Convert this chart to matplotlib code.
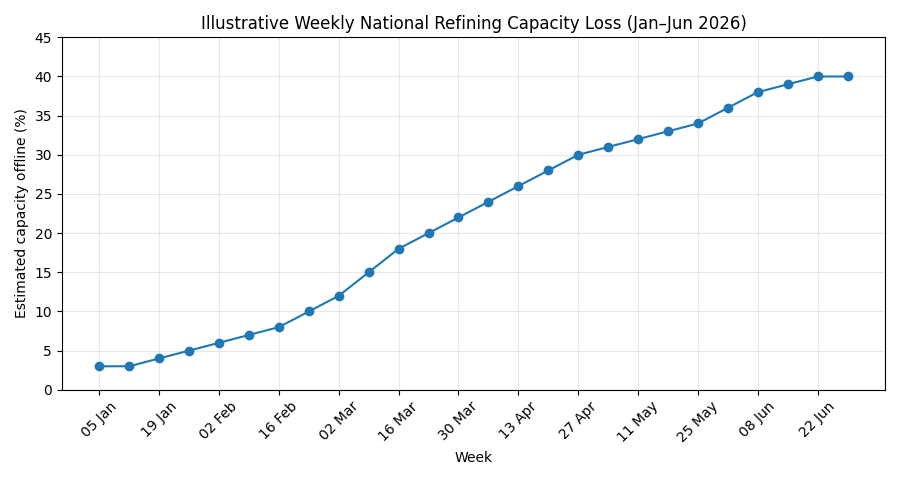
import matplotlib
matplotlib.use("Agg")
import matplotlib.pyplot as plt
import matplotlib.dates as mdates
import pandas as pd

weeks = pd.date_range("2026-01-05", periods=26, freq="7D")
capacity_offline = [3, 3, 4, 5, 6, 7, 8, 10, 12, 15, 18, 20, 22,
                    24, 26, 28, 30, 31, 32, 33, 34, 36, 38, 39, 40, 40]

fig, ax = plt.subplots(figsize=(9, 4.8), dpi=100)
ax.plot(weeks, capacity_offline, marker="o", color="#1f77b4")

ax.set_title("Illustrative Weekly National Refining Capacity Loss (Jan\u2013Jun 2026)")
ax.set_xlabel("Week")
ax.set_ylabel("Estimated capacity offline (%)")
ax.set_ylim(0, 45)
ax.set_xticks(weeks[::2])
ax.xaxis.set_major_formatter(mdates.DateFormatter("%d %b"))
plt.setp(ax.get_xticklabels(), rotation=45)
ax.grid(True, alpha=0.3)

fig.tight_layout()
fig.savefig("out.png")
